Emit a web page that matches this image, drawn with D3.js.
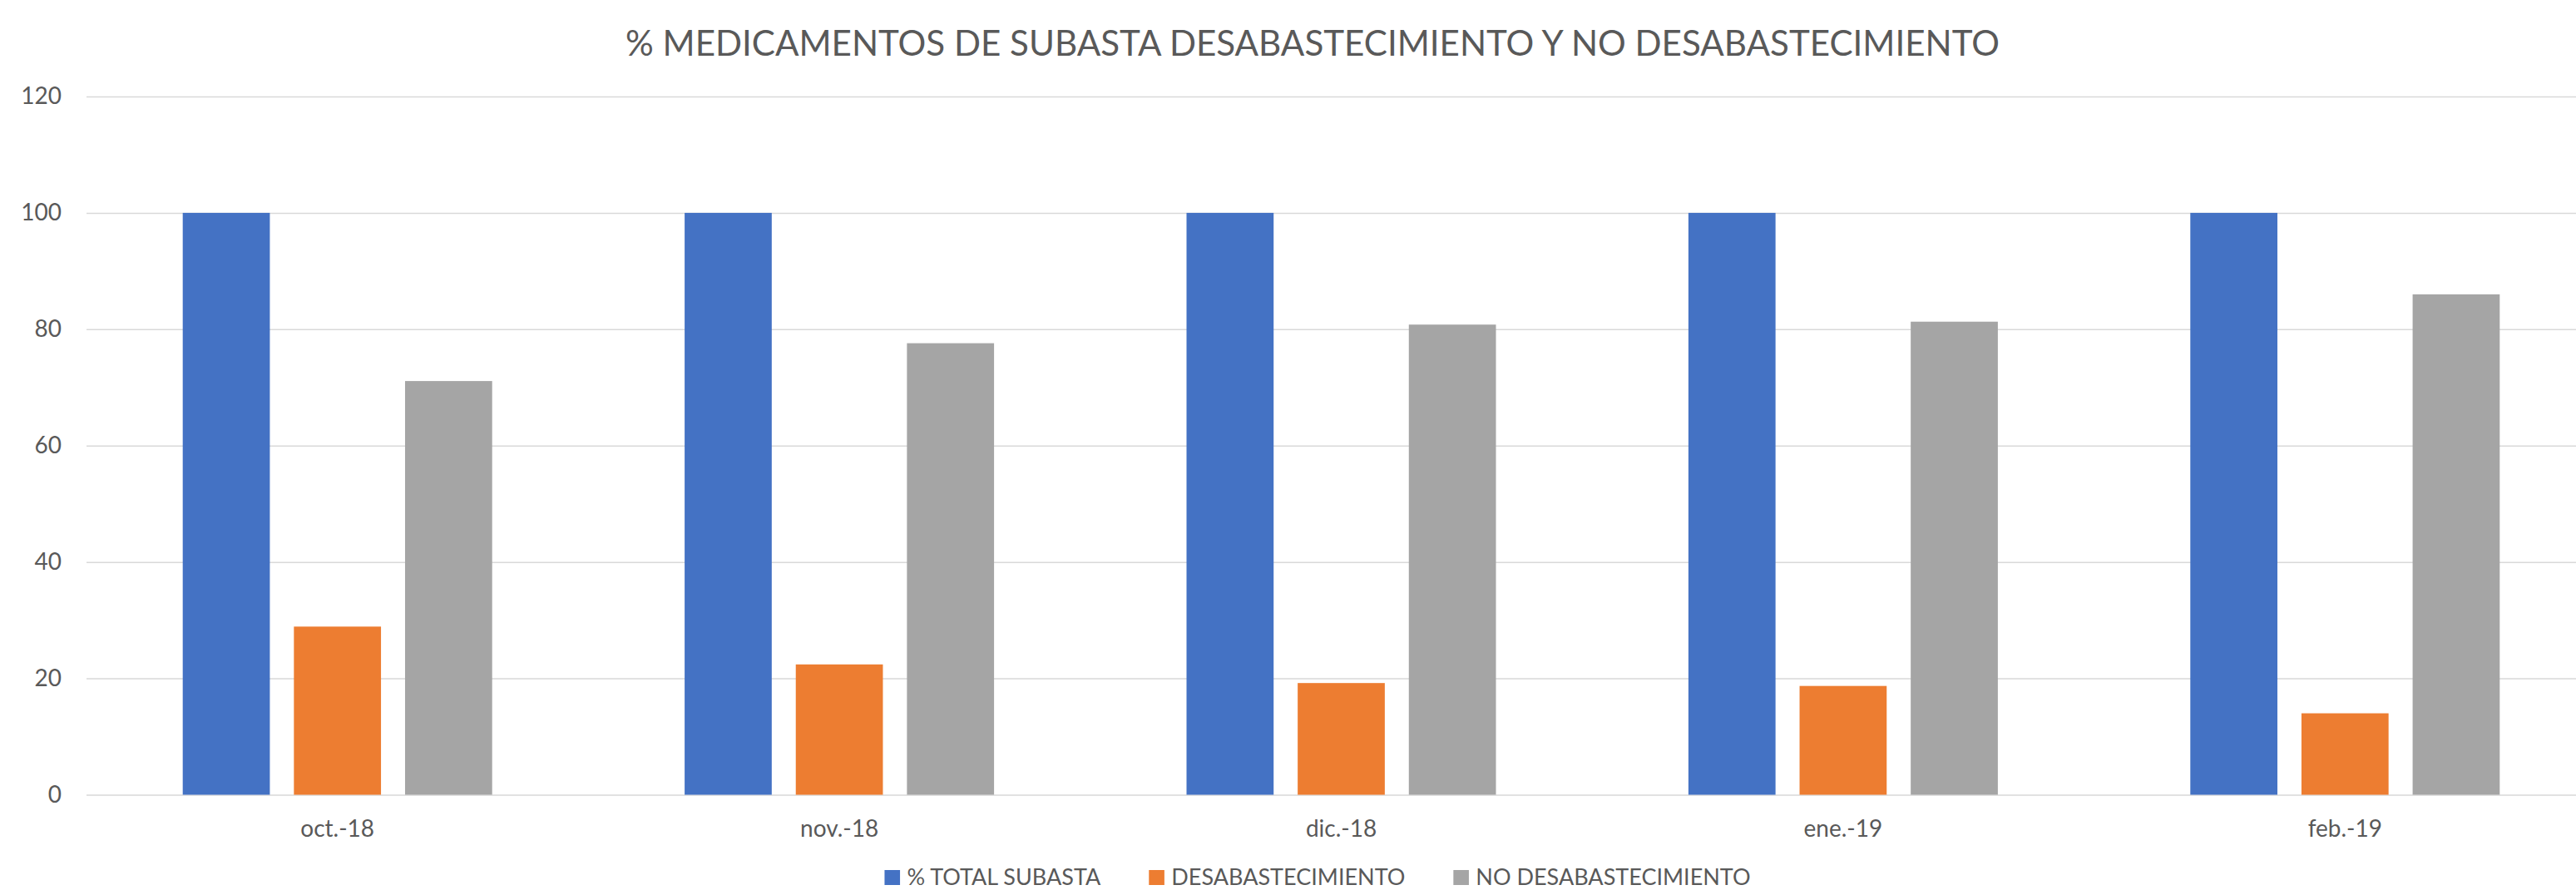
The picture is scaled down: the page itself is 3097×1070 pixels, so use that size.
<!DOCTYPE html>
<html>
<head>
<meta charset="utf-8">
<script src="https://cdn.jsdelivr.net/npm/d3@7"></script>
<style>
  body { margin: 0; background: #fff; }
  text { font-family: Lato, "Open Sans", sans-serif; fill: #595959; }
</style>
</head>
<body>
<script>
// data
var months = ["oct.-18", "nov.-18", "dic.-18", "ene.-19", "feb.-19"];
var seriesNames = ["% TOTAL SUBASTA", "DESABASTECIMIENTO", "NO DESABASTECIMIENTO"];
var totalSubasta = [100, 100, 100, 100, 100];
var desabastecimiento = [28.9, 22.4, 19.2, 18.7, 14.0];
var noDesabastecimiento = [71.1, 77.6, 80.8, 81.3, 86.0];
var yTicks = [0, 20, 40, 60, 80, 100, 120];
var colors = ["#4472C4", "#ED7D31", "#A5A5A5"];

var width = 3097, height = 1070;
var chartTitle = "% MEDICAMENTOS DE SUBASTA DESABASTECIMIENTO Y NO DESABASTECIMIENTO";

var svg = d3.select("body")
	.append("svg")
	.attr("width", width)
	.attr("height", height);

// plot area (runs a bit past the right edge, like the original crop)
var plot = {left: 104, right: 3121, top: 116, bottom: 955.5};

var x0 = d3.scaleBand()
	.domain(months)
	.range([plot.left, plot.right])
	.padding(0);

var groupWidth = 372;
var x1 = d3.scaleBand()
	.domain(seriesNames)
	.range([(x0.bandwidth() - groupWidth) / 2, (x0.bandwidth() + groupWidth) / 2])
	.paddingInner(0.2164)
	.paddingOuter(0);

var y = d3.scaleLinear()
	.domain([0, 120])
	.range([plot.bottom, plot.top]);

// gridlines + y labels
var yAxis = svg.append("g")
	.attr("transform", "translate(" + plot.left + ",0)")
	.call(d3.axisLeft(y).tickValues(yTicks).tickSize(-(plot.right - plot.left)).tickPadding(30));
yAxis.select(".domain").remove();
yAxis.selectAll("line").attr("stroke", "#d9d9d9").attr("stroke-width", 1.5);
yAxis.selectAll("text").style("font-size", "28px").style("font-family", "Lato, 'Open Sans', sans-serif").attr("fill", "#595959");

// bars
var table = months.map(function(m, i) {
	return {month: m, values: [totalSubasta[i], desabastecimiento[i], noDesabastecimiento[i]]};
});

var groups = svg.selectAll("g.month")
	.data(table)
	.enter()
	.append("g")
	.attr("class", "month")
	.attr("transform", function(d) { return "translate(" + x0(d.month) + ",0)"; });

groups.selectAll("rect")
	.data(function(d) {
		return d.values.map(function(v, j) { return {name: seriesNames[j], value: v, idx: j}; });
	})
	.enter()
	.append("rect")
	.attr("x", function(d) { return x1(d.name); })
	.attr("y", function(d) { return y(d.value); })
	.attr("width", x1.bandwidth())
	.attr("height", function(d) { return y(0) - y(d.value); })
	.style("fill", function(d) { return colors[d.idx]; });

// x labels
var xAxis = svg.append("g")
	.attr("transform", "translate(0," + plot.bottom + ")")
	.call(d3.axisBottom(x0).tickSize(0).tickPadding(31));
xAxis.select(".domain").remove();
xAxis.selectAll("text").style("font-size", "28px").style("font-family", "Lato, 'Open Sans', sans-serif").attr("fill", "#595959");

// title
svg.append("text")
	.attr("x", 1578)
	.attr("y", 67)
	.attr("text-anchor", "middle")
	.attr("textLength", 1652)
	.attr("lengthAdjust", "spacingAndGlyphs")
	.style("font-size", "43px")
	.text(chartTitle);

// legend, centred under the chart
var legend = svg.append("g").attr("class", "legend");
var items = legend.selectAll("g")
	.data(seriesNames)
	.enter()
	.append("g");

items.append("rect")
	.attr("width", 18.6)
	.attr("height", 18)
	.attr("y", 1046)
	.style("fill", function(d, i) { return colors[i]; });

items.append("text")
	.attr("x", 27)
	.attr("y", 1064)
	.style("font-size", "27px")
	.text(function(d) { return d; });

var pos = 0;
var offsets = [];
items.each(function() {
	var w = d3.select(this).select("text").node().getComputedTextLength();
	offsets.push(pos);
	pos += 27 + w + 58;
});
var legendWidth = pos - 58;
var legendLeft = 1584 - legendWidth / 2;
items.attr("transform", function(d, i) { return "translate(" + (legendLeft + offsets[i]) + ",0)"; });
</script>
</body>
</html>
